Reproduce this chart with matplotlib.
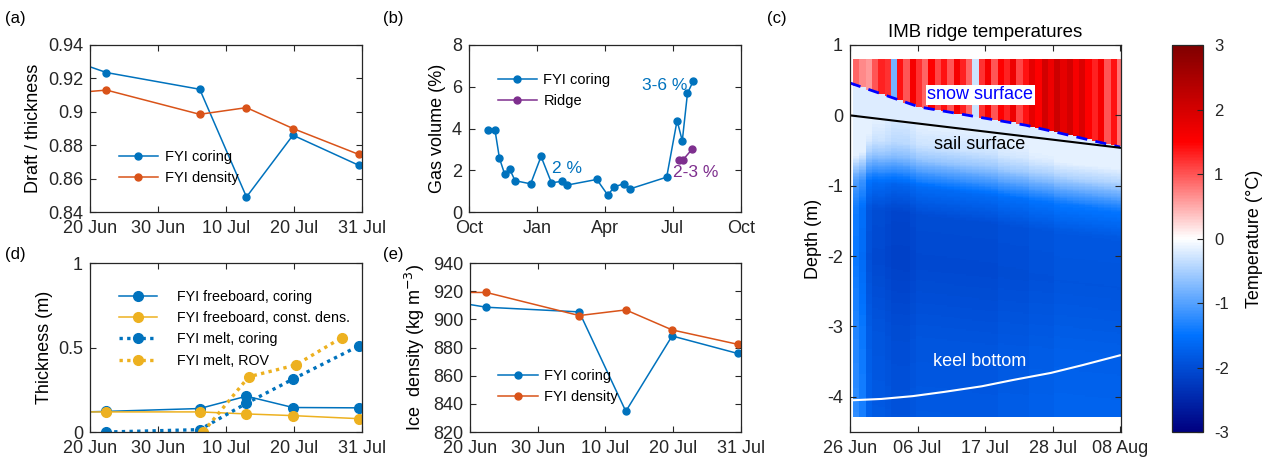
import numpy as np
import pandas as pd
import matplotlib
matplotlib.use("Agg")
import matplotlib.pyplot as plt
import matplotlib.dates as mdates
from matplotlib.colors import LinearSegmentedColormap
from matplotlib.ticker import FuncFormatter

plt.rcParams['font.family'] = ['Liberation Sans', 'DejaVu Sans']
plt.rcParams['axes.unicode_minus'] = False
plt.rcParams['axes.edgecolor'] = '#262626'
plt.rcParams['xtick.color'] = '#262626'
plt.rcParams['ytick.color'] = '#262626'

BLUE = '#0072BD'
ORANGE = '#D95319'
YELLOW = '#EDB120'
PURPLE = '#7E2F8E'

# ---- (a) draft / thickness ----
a_dates = ['2020-06-15', '2020-06-22 10:00', '2020-07-06 03:00', '2020-07-13 00:00',
           '2020-07-19 20:00', '2020-07-29 12:00']
a_coring = [0.934, 0.9235, 0.9135, 0.849, 0.886, 0.868]
a_density = [0.9105, 0.913, 0.8985, 0.9025, 0.890, 0.8745]
short_xlabels = ['20 Jun', '30 Jun', '10 Jul', '20 Jul', '31 Jul']

# ---- (b) gas volume ----
b_dates = ['2019-10-27', '2019-11-05', '2019-11-11', '2019-11-18', '2019-11-25', '2019-12-02',
           '2019-12-23', '2020-01-06', '2020-01-20', '2020-02-03', '2020-02-10', '2020-03-21',
           '2020-04-05', '2020-04-13', '2020-04-26', '2020-05-04', '2020-06-23', '2020-07-07',
           '2020-07-14', '2020-07-21', '2020-07-29']
b_coring = [3.94, 3.93, 2.58, 1.82, 2.04, 1.50, 1.35, 2.66, 1.40, 1.47, 1.29, 1.56,
            0.80, 1.20, 1.35, 1.10, 1.67, 4.38, 3.41, 5.69, 6.29]
b_ridge_dates = ['2020-07-10', '2020-07-15', '2020-07-27']
b_ridge = [2.50, 2.50, 3.00]

# ---- (d) thickness ----
d_fb_coring_dates = ['2020-06-15', '2020-06-22 10:00', '2020-07-06 03:00', '2020-07-13 00:00',
                     '2020-07-19 20:00', '2020-07-29 12:00']
d_fb_coring = [0.115, 0.122, 0.139, 0.212, 0.145, 0.143]
d_fb_const = [0.119, 0.119, 0.119, 0.107, 0.097, 0.079]
d_melt_dates = ['2020-06-22 10:00', '2020-07-06 03:00', '2020-07-13 00:00',
                '2020-07-19 20:00', '2020-07-29 12:00']
d_melt_coring = [0.0, 0.014, 0.170, 0.313, 0.509]
d_rov_dates = ['2020-07-06 15:00', '2020-07-13 08:00', '2020-07-20 05:00', '2020-07-27 00:00']
d_melt_rov = [0.0, 0.327, 0.396, 0.558]

# ---- (e) ice density ----
e_coring = [914.5, 908.6, 905.3, 834.7, 888.2, 875.8]
e_density = [919.1, 919.1, 902.7, 906.7, 892.5, 882.3]

# ---- (c) IMB ridge temperatures ----
c_start = '2020-06-26 12:00'
air_temp = [0.9, 0.7, 0.6, 1.0, 1.3, 1.2, -0.8, 1.4, 1.0, 1.6, 1.2, 0.9, 1.5, 1.1, 1.4,
            1.0, 1.6, 1.3, 0.9, -0.3, 1.2, 1.6, 1.0, 1.5, 1.3, 1.7, 1.1, 1.4, 1.8, 1.5,
            2.0, 1.7, 2.1, 1.8, 2.0, 1.6, 1.9, 1.5, 1.3, 1.6, 1.0, 1.4, 0.8, 1.2]
ice_offset = [0.6, 0.45, 0.1, 0.0, 0.0, -0.05, -0.1, -0.1, -0.1, -0.05, 0.0, 0.0, 0.0, 0.0,
              0.0, 0.0, 0.0, 0.0, 0.0, 0.0, 0.0, 0.0, 0.0, 0.05, 0.05, 0.05, 0.05, 0.05, 0.1,
              0.1, 0.1, 0.1, 0.15, 0.15, 0.15, 0.15, 0.15, 0.15, 0.15, 0.15, 0.15, 0.15, 0.15, 0.15]
prof_depth = [0.0, 0.3, 0.5, 0.7, 0.9, 1.3, 2.0, 3.0, 4.5]    # below sail surface (m)
prof_temp = [-0.15, -0.3, -0.6, -1.1, -1.6, -2.0, -2.05, -1.9, -1.8]
gap_temp = -0.2
snow_dates = ['2020-06-26', '2020-07-07', '2020-07-24', '2020-08-08']
snow_surf = [0.46, 0.12, -0.14, -0.45]
sail_dates = ['2020-06-26', '2020-08-08']
sail_surf = [0.0, -0.46]
keel_dates = ['2020-06-26', '2020-07-01', '2020-07-06', '2020-07-11', '2020-07-17',
              '2020-07-22', '2020-07-28', '2020-08-02', '2020-08-08']
keel_bottom = [-4.05, -4.03, -3.99, -3.93, -3.85, -3.76, -3.66, -3.55, -3.41]
c_xlabels = ['26 Jun', '06 Jul', '17 Jul', '28 Jul', '08 Aug']


def dnum(lst):
    return mdates.date2num(pd.to_datetime(lst, format='mixed'))


def style(ax):
    ax.tick_params(direction='in', length=4, width=0.8, top=True, right=True, labelsize=13)
    ax.tick_params(axis='x', pad=6)
    ax.tick_params(axis='y', pad=5)
    for s in ax.spines.values():
        s.set_linewidth(0.9)


def add_legend(ax, anchor, fs, hl, tp, ls):
    ax.legend(loc='upper left', bbox_to_anchor=anchor, frameon=False, fontsize=fs,
              borderpad=0, borderaxespad=0, handlelength=hl, handletextpad=tp, labelspacing=ls)


fmt_g = FuncFormatter(lambda v, p: '%g' % v)

fig = plt.figure(figsize=(12.63, 4.62), dpi=100)

x0 = mdates.date2num(pd.Timestamp('2020-06-20'))
x1 = mdates.date2num(pd.Timestamp('2020-07-30'))
short_ticks = np.linspace(x0, x1, 5)

# (a)
ax = fig.add_axes([0.0713, 0.5411, 0.2154, 0.3615])
ax.plot(dnum(a_dates), a_coring, '-o', color=BLUE, lw=1.1, ms=5, label='FYI coring')
ax.plot(dnum(a_dates), a_density, '-o', color=ORANGE, lw=1.1, ms=5, label='FYI density')
ax.set_xlim(x0, x1)
ax.set_ylim(0.84, 0.94)
ax.set_yticks([0.84, 0.86, 0.88, 0.90, 0.92, 0.94])
ax.yaxis.set_major_formatter(fmt_g)
ax.set_xticks(short_ticks)
ax.set_xticklabels(short_xlabels)
ax.set_ylabel('Draft / thickness', fontsize=13)
style(ax)
add_legend(ax, (0.105, 0.37), 10.5, 2.7, 0.45, 0.45)
fig.text(0.004, 0.96, '(a)', fontsize=12, va='center')

# (b)
ax = fig.add_axes([0.3713, 0.5411, 0.2154, 0.3615])
ax.plot(dnum(b_dates), b_coring, '-o', color=BLUE, lw=1.1, ms=5, label='FYI coring')
ax.plot(dnum(b_ridge_dates), b_ridge, '-o', color=PURPLE, lw=1.1, ms=5, label='Ridge')
ax.set_xlim(dnum(['2019-10-01'])[0], dnum(['2020-10-01'])[0])
ax.set_ylim(0, 8)
ax.set_yticks([0, 2, 4, 6, 8])
ax.set_xticks(dnum(['2019-10-01', '2020-01-01', '2020-04-01', '2020-07-01', '2020-10-01']))
ax.set_xticklabels(['Oct', 'Jan', 'Apr', 'Jul', 'Oct'])
ax.set_ylabel('Gas volume (%)', fontsize=13)
style(ax)
add_legend(ax, (0.105, 0.83), 10.5, 2.7, 0.45, 0.45)
ax.text(dnum(['2020-02-10'])[0], 2.1, '2 %', color=BLUE, fontsize=12.5, ha='center', va='center')
ax.text(dnum(['2020-06-20'])[0], 6.05, '3-6 %', color=BLUE, fontsize=12.5, ha='center', va='center')
ax.text(dnum(['2020-08-01'])[0], 1.88, '2-3 %', color=PURPLE, fontsize=12.5, ha='center', va='center')
fig.text(0.303, 0.96, '(b)', fontsize=12, va='center')

# (d)
ax = fig.add_axes([0.0713, 0.0649, 0.2154, 0.3658])
ax.plot(dnum(d_fb_coring_dates), d_fb_coring, '-o', color=BLUE, lw=1.1, ms=7,
        label='FYI freeboard, coring')
ax.plot(dnum(d_fb_coring_dates), d_fb_const, '-o', color=YELLOW, lw=1.1, ms=7,
        label='FYI freeboard, const. dens.')
ax.plot(dnum(d_melt_dates), d_melt_coring, 'o', ls=(0, (1, 1.3)), color=BLUE, lw=2.4, ms=7,
        label='FYI melt, coring')
ax.plot(dnum(d_rov_dates), d_melt_rov, 'o', ls=(0, (1, 1.3)), color=YELLOW, lw=2.4, ms=7,
        label='FYI melt, ROV')
ax.set_xlim(x0, x1)
ax.set_ylim(0, 1)
ax.set_yticks([0, 0.5, 1])
ax.yaxis.set_major_formatter(fmt_g)
ax.set_xticks(short_ticks)
ax.set_xticklabels(short_xlabels)
ax.set_ylabel('Thickness (m)', fontsize=13)
style(ax)
add_legend(ax, (0.105, 0.84), 10.3, 2.7, 1.35, 0.5)
fig.text(0.004, 0.45, '(d)', fontsize=12, va='center')

# (e)
ax = fig.add_axes([0.3721, 0.0649, 0.2146, 0.3658])
ax.plot(dnum(a_dates), e_coring, '-o', color=BLUE, lw=1.1, ms=5, label='FYI coring')
ax.plot(dnum(a_dates), e_density, '-o', color=ORANGE, lw=1.1, ms=5, label='FYI density')
ax.set_xlim(x0, x1)
ax.set_ylim(820, 940)
ax.set_yticks(np.arange(820, 941, 20))
ax.set_xticks(short_ticks)
ax.set_xticklabels(short_xlabels)
ax.set_ylabel('Ice  density (kg m$^{-3}$)', fontsize=13)
style(ax)
add_legend(ax, (0.105, 0.37), 10.5, 2.7, 0.45, 0.45)
fig.text(0.303, 0.45, '(e)', fontsize=12, va='center')

# (c)
cmap = LinearSegmentedColormap.from_list('rwb', [(0, (0, 0, 0.5)), (0.25, (0, 0.45, 1)),
                                                 (0.5, (1, 1, 1)), (0.75, (1, 0, 0)),
                                                 (1, (0.5, 0, 0))])
t_edges = mdates.date2num(pd.date_range(c_start, periods=len(air_temp) + 1, freq='D'))
t_cent = 0.5 * (t_edges[:-1] + t_edges[1:])
z_edges = np.arange(-4.28, 0.8001, 0.02)
z_cent = 0.5 * (z_edges[:-1] + z_edges[1:])
sail_c = np.interp(t_cent, dnum(sail_dates), sail_surf)
snow_c = np.interp(t_cent, dnum(snow_dates), snow_surf)
T = np.zeros((len(z_cent), len(t_cent)))
for j in range(len(t_cent)):
    col = np.full(len(z_cent), gap_temp)
    ice = z_cent <= sail_c[j]
    prof = np.interp(sail_c[j] - z_cent[ice], prof_depth, prof_temp) + ice_offset[j]
    col[ice] = np.minimum(prof, -0.15)
    col[z_cent > snow_c[j]] = air_temp[j]
    T[:, j] = col

ax = fig.add_axes([0.673, 0.0649, 0.2146, 0.8377])
mesh = ax.pcolormesh(t_edges, z_edges, T, cmap=cmap, vmin=-3, vmax=3, shading='flat')
ax.plot(dnum(snow_dates), snow_surf, color='blue', lw=2, dashes=[4, 3])
ax.plot(dnum(sail_dates), sail_surf, color='black', lw=1.5)
ax.plot(dnum(keel_dates), keel_bottom, color='white', lw=1.5)
cx0 = mdates.date2num(pd.Timestamp('2020-06-26'))
cx1 = mdates.date2num(pd.Timestamp('2020-08-08 04:00'))
ax.set_xlim(cx0, cx1)
ax.set_ylim(-4.5, 1)
ax.set_yticks([-4, -3, -2, -1, 0, 1])
ax.set_xticks(np.linspace(cx0, cx1 - 0.1, 5))
ax.set_xticklabels(c_xlabels)
ax.set_ylabel('Depth (m)', fontsize=13)
ax.set_title('IMB ridge temperatures', fontsize=13.4, pad=6)
style(ax)
tr = ax.get_yaxis_transform()
ax.text(0.48, 0.29, 'snow surface', transform=tr, color='blue', fontsize=13, ha='center',
        va='center', bbox=dict(facecolor='white', edgecolor='none', pad=1))
ax.text(0.48, -0.42, 'sail surface', transform=tr, color='black', fontsize=13, ha='center',
        va='center')
ax.text(0.48, -3.5, 'keel bottom', transform=tr, color='white', fontsize=13, ha='center',
        va='center')
fig.text(0.607, 0.96, '(c)', fontsize=12, va='center')

cax = fig.add_axes([0.928, 0.0649, 0.0245, 0.8377])
cb = fig.colorbar(mesh, cax=cax, ticks=np.arange(-3, 4))
cb.ax.tick_params(direction='in', length=4, labelsize=12, pad=8)
cb.outline.set_linewidth(0.9)
cb.set_label('Temperature (°C)', fontsize=13, labelpad=12)

fig.savefig('out.png', dpi=100)
